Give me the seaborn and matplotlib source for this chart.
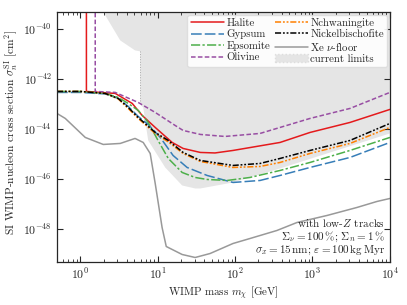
import numpy as np
import pandas as pd
import seaborn as sns
import matplotlib
matplotlib.use("Agg")
from matplotlib import pyplot as plt
from matplotlib.ticker import LogLocator, NullLocator
from matplotlib.patches import Patch

sns.set_style("ticks")
plt.rcParams["font.family"] = "serif"
plt.rcParams["font.serif"] = ["cmr10"]
plt.rcParams["mathtext.fontset"] = "cm"
plt.rcParams["axes.formatter.use_mathtext"] = True

TOP = -30.0  # vertical threshold lines run off the top

# WIMP mass [GeV] and log10 cross section [cm^2]
halite_m = [1.2, 1.2, 2.83, 4.69, 6.3, 9.29, 15.4, 21.3, 35.6, 55, 94, 381, 929, 3050, 1e4]
halite_e = [TOP, -42.48, -42.56, -42.96, -43.44, -43.92, -44.52, -44.76, -44.92, -44.94, -44.84,
            -44.52, -44.12, -43.72, -43.2]

olivine_m = [1.56, 1.56, 2.83, 5.6, 9.29, 16.8, 21.3, 35.6, 74, 210, 381, 929, 3050, 1e4]
olivine_e = [TOP, -42.48, -42.52, -42.92, -43.32, -43.84, -44.04, -44.2, -44.28, -44.16, -43.92,
             -43.56, -43.16, -42.52]

nickel_m = [0.5, 1.0, 2.1, 3.09, 4.16, 5.6, 9.29, 13.7, 21.3, 35.6, 94, 210, 381, 929, 3050, 1e4]
nickel_e = [-42.48, -42.48, -42.56, -42.76, -43.12, -43.52, -44.12, -44.44, -44.92, -45.24, -45.44,
            -45.36, -45.16, -44.84, -44.44, -43.76]

nchwan_m = [0.5, 1.0, 2.1, 3.09, 4.16, 5.6, 9.29, 13.7, 21.3, 35.6, 94, 210, 381, 929, 3050, 1e4]
nchwan_e = [-42.48, -42.48, -42.56, -42.78, -43.16, -43.56, -44.16, -44.5, -44.96, -45.28, -45.52,
            -45.48, -45.32, -44.96, -44.56, -43.92]

gypsum_m = [0.5, 1.0, 2.1, 3.09, 4.16, 5.6, 7.54, 10.8, 15.8, 24, 43.5, 94, 210, 381, 929, 3050, 1e4]
gypsum_e = [-42.52, -42.52, -42.58, -42.76, -43.08, -43.48, -43.8, -44.32, -45.04, -45.52, -45.84,
            -46.12, -46.04, -45.84, -45.52, -45.12, -44.52]

epsom_m = [0.5, 1.0, 2.1, 3.09, 4.16, 5.6, 7.54, 10.1, 13.7, 20.7, 30.5, 43.5, 79, 156, 381, 929,
           3050, 1e4]
epsom_e = [-42.48, -42.48, -42.56, -42.72, -42.96, -43.24, -43.72, -44.44, -45.16, -45.72, -45.92,
           -46.0, -46.04, -45.92, -45.64, -45.32, -44.84, -44.32]

xe_m = [0.5, 0.64, 1.16, 1.98, 3.28, 5.1, 6.5, 8.0, 9.29, 11.4, 12.9, 20.7, 30.5, 47.6, 94, 156,
        347, 631, 1540, 3750, 6800, 1e4]
xe_e = [-43.36, -43.56, -44.32, -44.6, -44.56, -44.36, -44.52, -44.96, -46.16, -47.92, -48.68,
        -49.0, -49.12, -48.96, -48.56, -48.36, -48.04, -47.72, -47.44, -47.12, -46.88, -46.76]

limit_m = [1.98, 3.28, 5.1, 5.95, 5.95, 6.5, 7.54, 12.5, 20.7, 30.5, 35.6, 94, 381, 1e4]
limit_e = [-39.3, -40.44, -40.84, -40.88, -43.0, -43.12, -44.44, -45.52, -46.24, -46.36, -46.36,
           -46.12, -45.56, -44.16]

series = [
    ("Halite", halite_m, halite_e, "#e41a1c", "-"),
    ("Gypsum", gypsum_m, gypsum_e, "#377eb8", (0, (7, 2))),
    ("Epsomite", epsom_m, epsom_e, "#4daf4a", (0, (6, 1.5, 1.5, 1.5))),
    ("Olivine", olivine_m, olivine_e, "#984ea3", (0, (3, 1.5))),
    ("Nchwaningite", nchwan_m, nchwan_e, "#ff7f00", (0, (4, 1.2, 1.2, 1.2, 1.2, 1.2))),
    ("Nickelbischofite", nickel_m, nickel_e, "black", (0, (4, 1.2, 1.2, 1.2, 1.2, 1.2))),
]

fig = plt.figure(figsize=(4.07, 3.05), dpi=100)
ax = fig.add_axes([0.140, 0.141, 0.818, 0.820])

lm = np.array(limit_m)
ls_ = 10.0 ** np.array(limit_e)
ax.fill_between(lm, ls_, 1e-30, facecolor="#e5e5e5", edgecolor="none", linewidth=0, zorder=0)
# dotted edge along the step of the limits
ax.plot(lm[3:5], ls_[3:5], color="#aaaaaa", linestyle=":", lw=0.7, zorder=0)

handles = []
for name, m, e, color, ls in series:
    df = pd.DataFrame({"m": m, "s": 10.0 ** np.array(e)})
    sns.lineplot(data=df, x="m", y="s", ax=ax, color=color, linestyle=ls, lw=1.1,
                 sort=False, estimator=None)
    handles.append(plt.Line2D([], [], color=color, linestyle=ls, lw=1.1, label=name))

df = pd.DataFrame({"m": xe_m, "s": 10.0 ** np.array(xe_e)})
sns.lineplot(data=df, x="m", y="s", ax=ax, color="#999999", lw=1.1, sort=False, estimator=None)
handles.insert(6, plt.Line2D([], [], color="#999999", lw=1.1, label=r"Xe $\nu$-floor"))
handles.append(Patch(facecolor="#e5e5e5", edgecolor="#dddddd", linestyle=":", label="current limits"))

ax.set_xscale("log")
ax.set_yscale("log")
ax.set_xlim(0.5, 1e4)
ax.set_ylim(10 ** -49.3, 10 ** -39.3)
ax.yaxis.set_major_locator(LogLocator(base=100, numticks=10))
ax.yaxis.set_minor_locator(NullLocator())
ax.xaxis.set_minor_locator(LogLocator(base=10, subs=np.arange(2, 10), numticks=20))
ax.tick_params(which="both", direction="in", top=True, right=True, labelsize=8.5)
ax.tick_params(which="major", length=4)
ax.tick_params(which="minor", length=2)
for s in ax.spines.values():
    s.set_linewidth(0.9)

ax.set_xlabel(r"WIMP mass $m_\chi$ [GeV]", fontsize=7.9, labelpad=2)
ax.set_ylabel(r"SI WIMP-nucleon cross section $\sigma_n^{\rm SI}$ [cm$^2$]", fontsize=8.2)
ax.yaxis.set_label_coords(-0.112, 0.52)

leg = ax.legend(handles=handles, ncol=2, loc="upper right", fontsize=7.8, frameon=True,
                borderaxespad=0.25, handlelength=3.1, handletextpad=0.2, columnspacing=0.4,
                labelspacing=0.15, borderpad=0.3, fancybox=True)
leg.get_frame().set_edgecolor("#dddddd")
leg.get_frame().set_alpha(0.9)

ax.text(0.985, 0.02,
        "with low-$Z$ tracks\n"
        r"$\Sigma_\nu = 100\,\%$; $\Sigma_n = 1\,\%$" "\n"
        r"$\sigma_x = 15\,$nm; $\varepsilon = 100\,$kg$\,$Myr",
        transform=ax.transAxes, ha="right", va="bottom", fontsize=8, linespacing=1.0)

fig.savefig("out.png", dpi=100)
